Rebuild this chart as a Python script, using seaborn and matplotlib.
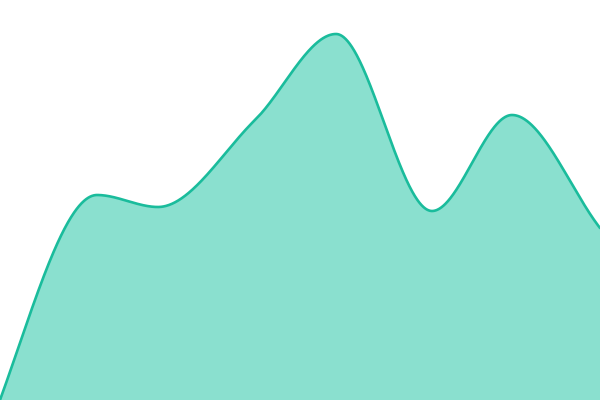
import matplotlib
matplotlib.use("Agg")
import matplotlib.pyplot as plt
import seaborn as sns
import numpy as np
import pandas as pd

# values (x position, height above bottom)
xs = [0, 97, 158, 255, 336, 432, 512, 600]
vals = [0, 205, 193, 280, 366, 189, 285, 172]

line_color = "#1abc9c"
fill_color = "#8ae0cf"


def pchip(x, y, xn):
    # monotone cubic (Fritsch-Carlson) for a smooth curve through the points
    x = np.asarray(x, float)
    y = np.asarray(y, float)
    h = np.diff(x)
    d = np.diff(y) / h
    m = np.zeros_like(y)
    for k in range(1, len(x) - 1):
        if d[k - 1] * d[k] > 0:
            w1 = 2 * h[k] + h[k - 1]
            w2 = h[k] + 2 * h[k - 1]
            m[k] = (w1 + w2) / (w1 / d[k - 1] + w2 / d[k])
    m[0] = d[0] * 1.3
    m[-1] = d[-1]
    i = np.clip(np.searchsorted(x, xn) - 1, 0, len(x) - 2)
    t = (xn - x[i]) / h[i]
    h00 = 2 * t**3 - 3 * t**2 + 1
    h10 = t**3 - 2 * t**2 + t
    h01 = -2 * t**3 + 3 * t**2
    h11 = t**3 - t**2
    return h00 * y[i] + h10 * h[i] * m[i] + h01 * y[i + 1] + h11 * h[i] * m[i + 1]


sns.set_style("white")
fig = plt.figure(figsize=(6, 4), dpi=100)
ax = fig.add_axes([0, 0, 1, 1])

xx = np.linspace(0, 600, 1200)
curve = pd.DataFrame({"x": xx, "y": pchip(xs, vals, xx)})

ax.fill_between(curve["x"], curve["y"], 0, color=fill_color, linewidth=0)
sns.lineplot(data=curve, x="x", y="y", ax=ax, color=line_color, linewidth=1.9)

ax.set_xlim(0, 600)
ax.set_ylim(0, 400)
ax.axis("off")
fig.savefig("out.png", dpi=100)
